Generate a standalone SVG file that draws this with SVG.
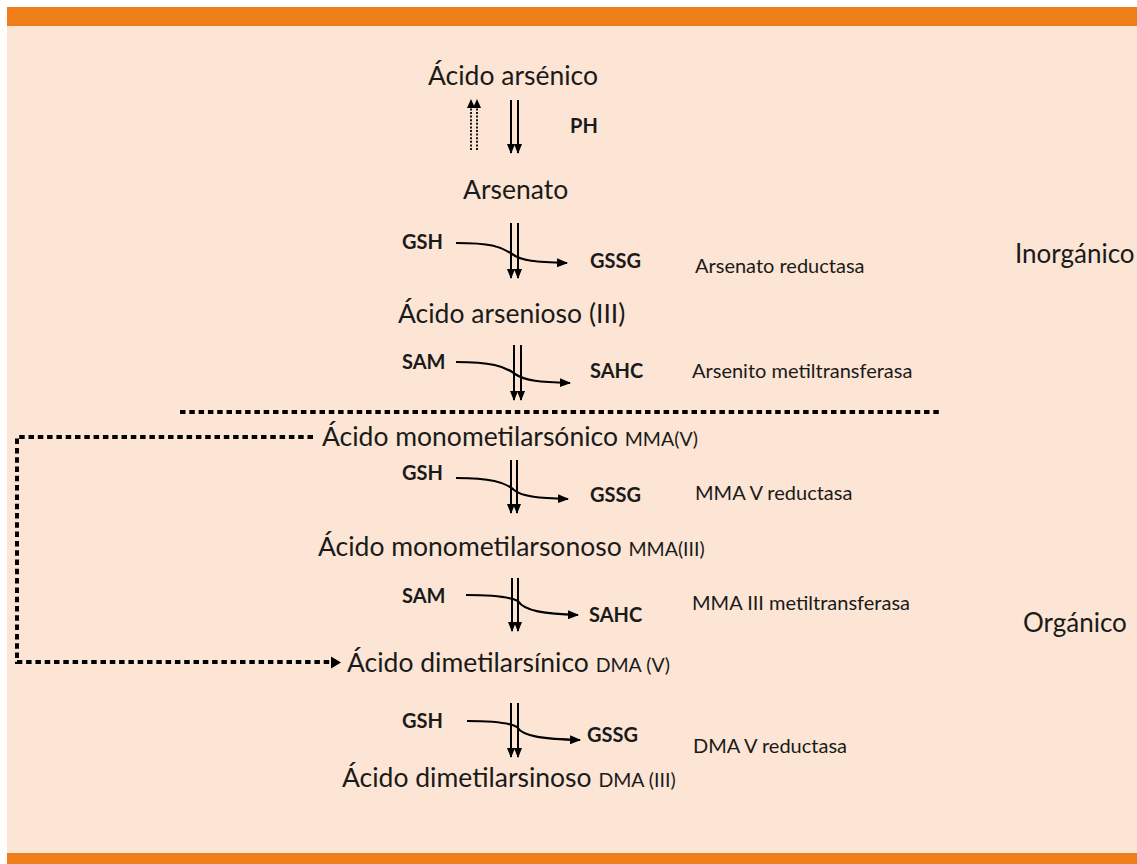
<svg xmlns="http://www.w3.org/2000/svg" width="1137" height="864" viewBox="0 0 1137 864">
<defs>
<style>
.m{font-family:Lato,"Open Sans","Liberation Sans",sans-serif;font-size:26.5px;fill:#1a1a1a}
.s{font-size:19.5px}
.b{font-family:Lato,"Open Sans","Liberation Sans",sans-serif;font-size:20px;font-weight:bold;fill:#1a1a1a}
.e{font-family:Lato,"Open Sans","Liberation Sans",sans-serif;font-size:20px;fill:#1a1a1a}
.side{font-family:Lato,"Open Sans","Liberation Sans",sans-serif;font-size:26px;fill:#1a1a1a}
.ln{fill:none;stroke:#000;stroke-width:2}
.cv{fill:none;stroke:#000;stroke-width:2.2}
.dot{fill:none;stroke:#000;stroke-width:4;stroke-dasharray:5.5 3.8}
.fine{fill:none;stroke:#000;stroke-width:1.8;stroke-dasharray:2 1.6}
</style>
<marker id="ah" markerWidth="11" markerHeight="9" refX="10" refY="4.5" orient="auto" markerUnits="userSpaceOnUse">
<path d="M0,0 L11,4.5 L0,9 Z" fill="#000"/>
</marker>
<marker id="dh" markerWidth="10" markerHeight="8" refX="9" refY="4" orient="auto" markerUnits="userSpaceOnUse">
<path d="M0,0 L10,4 L0,8 Z" fill="#000"/>
</marker>
<marker id="uh" markerWidth="9" markerHeight="8" refX="8" refY="4" orient="auto" markerUnits="userSpaceOnUse">
<path d="M0,0 L9,4 L0,8 Z" fill="#000"/>
</marker>
</defs>
<rect x="0" y="0" width="1137" height="864" fill="#ffffff"/>
<rect x="7" y="26" width="1130" height="827" fill="#FCE5D4"/>
<rect x="7" y="7" width="1130" height="19" fill="#EF7D1A"/>
<rect x="7" y="853" width="1130" height="11" fill="#EF7D1A"/>

<g id="n-acido-arsenico"><text class="m" x="428" y="85">Ácido arsénico</text></g>
<g id="n-arsenato"><text class="m" x="463" y="199">Arsenato</text></g>
<g id="n-acido-arsenioso"><text class="m" x="398" y="323">Ácido arsenioso (III)</text></g>
<g id="n-mmav"><text class="m" x="322" y="446">Ácido monometilarsónico <tspan class="s">MMA(V)</tspan></text></g>
<g id="n-mmaiii"><text class="m" x="318" y="556">Ácido monometilarsonoso <tspan class="s">MMA(III)</tspan></text></g>
<g id="n-dmav"><text class="m" x="347" y="672">Ácido dimetilarsínico <tspan class="s">DMA (V)</tspan></text></g>
<g id="n-dmaiii"><text class="m" x="342" y="787">Ácido dimetilarsinoso <tspan class="s">DMA (III)</tspan></text></g>

<g id="labels">
<text class="b" x="570" y="133">PH</text>
<text class="b" x="402" y="249">GSH</text>
<text class="b" x="590" y="268">GSSG</text>
<text class="b" x="402" y="369">SAM</text>
<text class="b" x="590" y="378">SAHC</text>
<text class="b" x="402" y="480">GSH</text>
<text class="b" x="590" y="502">GSSG</text>
<text class="b" x="402" y="603">SAM</text>
<text class="b" x="589" y="622">SAHC</text>
<text class="b" x="402" y="728">GSH</text>
<text class="b" x="587" y="742">GSSG</text>
<text class="e" x="695" y="273">Arsenato reductasa</text>
<text class="e" x="692" y="378">Arsenito metiltransferasa</text>
<text class="e" x="695" y="500">MMA V reductasa</text>
<text class="e" x="692" y="610">MMA III metiltransferasa</text>
<text class="e" x="693" y="753">DMA V reductasa</text>
<text class="side" x="1015" y="263">Inorgánico</text>
<text class="side" x="1023" y="632">Orgánico</text>
</g>

<g id="connectors">
<line class="fine" x1="471" y1="150" x2="471" y2="100" marker-end="url(#uh)"/>
<line class="fine" x1="477" y1="150" x2="477" y2="100" marker-end="url(#uh)"/>
<line class="ln" x1="511" y1="100" x2="511" y2="153" marker-end="url(#dh)"/>
<line class="ln" x1="518" y1="100" x2="518" y2="153" marker-end="url(#dh)"/>
<line class="ln" x1="511" y1="223" x2="511" y2="278" marker-end="url(#dh)"/>
<line class="ln" x1="518" y1="223" x2="518" y2="278" marker-end="url(#dh)"/>
<line class="ln" x1="514" y1="345" x2="514" y2="400" marker-end="url(#dh)"/>
<line class="ln" x1="521" y1="345" x2="521" y2="400" marker-end="url(#dh)"/>
<line class="ln" x1="511" y1="460" x2="511" y2="513" marker-end="url(#dh)"/>
<line class="ln" x1="517" y1="460" x2="517" y2="513" marker-end="url(#dh)"/>
<line class="ln" x1="512" y1="578" x2="512" y2="631" marker-end="url(#dh)"/>
<line class="ln" x1="518" y1="578" x2="518" y2="631" marker-end="url(#dh)"/>
<line class="ln" x1="511" y1="703" x2="511" y2="757" marker-end="url(#dh)"/>
<line class="ln" x1="518" y1="703" x2="518" y2="757" marker-end="url(#dh)"/>
<path class="cv" d="M456,243 C490,243 500,246 512,254 C522,261 535,262 567,263" marker-end="url(#ah)"/>
<path class="cv" d="M456,362 C490,362 505,366 515,374 C525,381 540,382 570,383" marker-end="url(#ah)"/>
<path class="cv" d="M456,478 C490,478 505,482 514,490 C522,497 540,498 568,499" marker-end="url(#ah)"/>
<path class="cv" d="M466,595 C495,595 510,597 518,601 C524,611 545,614 578,615" marker-end="url(#ah)"/>
<path class="cv" d="M467,721 C495,721 510,723 517,727 C523,737 545,739 580,740" marker-end="url(#ah)"/>
<line class="dot" x1="180" y1="412" x2="940" y2="412"/>
<path class="dot" d="M313,437 L17,437 L17,662 L330,662"/>
<path d="M331,656.5 L341,662.5 L331,668.5 Z" fill="#000"/>
</g>
</svg>
